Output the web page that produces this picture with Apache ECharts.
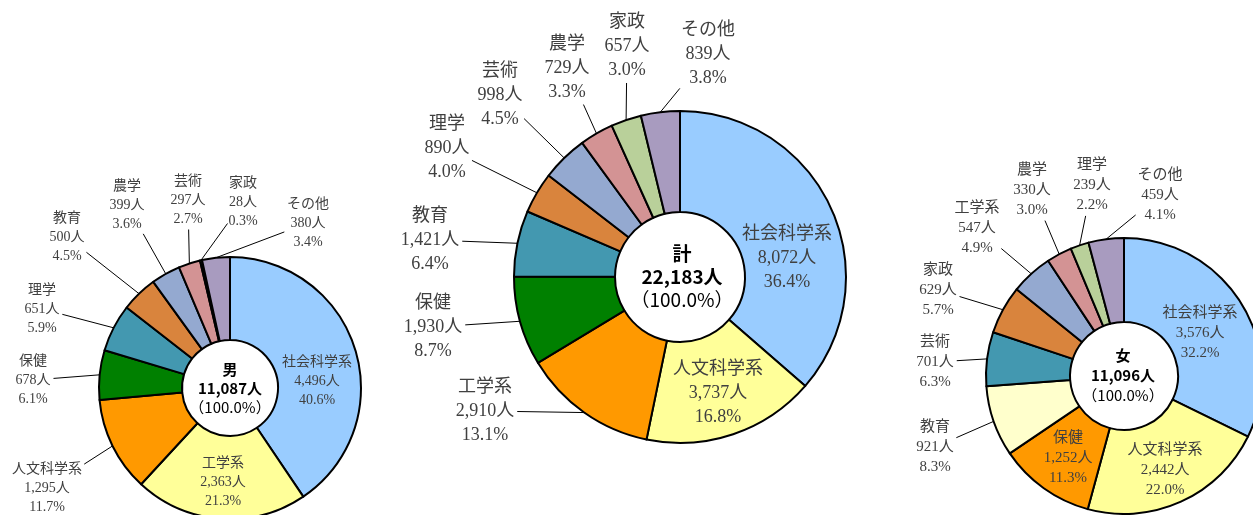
<!DOCTYPE html>
<html style="height: 100%">
<head>
    <meta charset="UTF-8">
    <title>学部系統別 学生数</title>
    <script src="https://cdn.jsdelivr.net/npm/echarts@6/dist/echarts.min.js"></script>
</head>
<body style="height: 100%; margin: 0; background: #fff">
    <div id="main" style="width: 1253px; height: 515px"></div>
    <script type="text/javascript">
        // 男
        var maleNames = ['社会科学系', '工学系', '人文科学系', '保健', '理学', '教育', '農学', '芸術', '家政', 'その他'];
        var maleValues = [4496, 2363, 1295, 678, 651, 500, 399, 297, 28, 380];
        var maleInside = ['社会科学系', '工学系'];
        // 計
        var totalNames = ['社会科学系', '人文科学系', '工学系', '保健', '教育', '理学', '芸術', '農学', '家政', 'その他'];
        var totalValues = [8072, 3737, 2910, 1930, 1421, 890, 998, 729, 657, 839];
        var totalInside = ['社会科学系', '人文科学系'];
        // 女
        var femaleNames = ['社会科学系', '人文科学系', '保健', '教育', '芸術', '家政', '工学系', '農学', '理学', 'その他'];
        var femaleValues = [3576, 2442, 1252, 921, 701, 629, 547, 330, 239, 459];
        var femaleInside = ['社会科学系', '人文科学系', '保健'];

        // 色（順位ごと）
        var palette = ['#99CCFF', '#FFFF99', '#FF9900', '#008000', '#4398B0', '#D9843D', '#94A9D0', '#D39394', '#B9D09A', '#A89BBF'];
        var femalePalette = ['#99CCFF', '#FFFF99', '#FF9900', '#FFFFCC', '#4398B0', '#D9843D', '#94A9D0', '#D39394', '#B9D09A', '#A89BBF'];

        // ラベルの位置（中心座標）
        var maleLabelPos = [[317, 381], [223, 482], [47, 488], [33, 380], [42, 309], [67, 237], [127, 205], [188, 200], [243, 202], [308, 223]];
        var totalLabelPos = [[787, 258], [718, 393], [485, 411], [433, 327], [430, 240], [447, 148], [500, 95], [567, 68], [627, 46], [708, 54]];
        var femaleLabelPos = [[1200, 333], [1165, 470], [1068, 458], [935, 447], [935, 362], [938, 290], [977, 228], [1032, 190], [1092, 185], [1160, 195]];

        var serif = "'Liberation Serif', 'DejaVu Serif', 'Noto Sans CJK JP'";
        var sans = "'Noto Sans CJK JP', 'Noto Sans', sans-serif";

        function sum(arr) {
            return arr.reduce(function (a, b) { return a + b; }, 0);
        }

        // 扇形の外周からラベルの手前まで直線を引く
        function leaderLine(start, pos, rect) {
            var dx = start[0] - pos[0], dy = start[1] - pos[1];
            var hw = rect.width / 2 - 2, hh = rect.height / 2 - 4;
            var t = Math.min(dx ? hw / Math.abs(dx) : Infinity, dy ? hh / Math.abs(dy) : Infinity);
            var len = Math.sqrt(dx * dx + dy * dy);
            var gap = 5 / len;
            return [start, [pos[0] + dx * (t + gap), pos[1] + dy * (t + gap)]];
        }

        function buildSeries(names, values, colors, inside, labelPos, center, radius, fontSize, lineHeight) {
            var total = sum(values);
            return {
                type: 'pie',
                center: center,
                radius: radius,
                startAngle: 90,
                clockwise: true,
                avoidLabelOverlap: false,
                minShowLabelAngle: 0,
                animation: false,
                emphasis: { disabled: true },
                itemStyle: { borderColor: '#000', borderWidth: 2 },
                label: {
                    show: true,
                    position: 'outside',
                    formatter: function (p) {
                        return p.name + '\n' + p.value.toLocaleString('en-US') + '人\n' + (p.value / total * 100).toFixed(1) + '%';
                    },
                    fontFamily: serif,
                    fontSize: fontSize,
                    lineHeight: lineHeight,
                    color: '#404040',
                    align: 'center'
                },
                labelLine: { show: true, length: 8, length2: 8, lineStyle: { color: '#000', width: 1 } },
                labelLayout: function (p) {
                    var pos = labelPos[p.dataIndex];
                    var out = { x: pos[0], y: pos[1], align: 'center', verticalAlign: 'middle' };
                    if (p.labelLinePoints && p.labelLinePoints.length) {
                        out.labelLinePoints = leaderLine(p.labelLinePoints[0], pos, p.labelRect);
                    }
                    return out;
                },
                data: names.map(function (n, i) {
                    var item = { name: n, value: values[i], itemStyle: { color: colors[i] } };
                    if (inside.indexOf(n) >= 0) {
                        item.label = { position: 'inside' };
                        item.labelLine = { show: false };
                    }
                    return item;
                })
            };
        }

        function centerText(x, y, title, values, size, lh) {
            return {
                type: 'text',
                x: x,
                y: y,
                style: {
                    text: '{b|' + title + '}\n{b|' + sum(values).toLocaleString('en-US') + '人}\n{n|（100.0%）}',
                    align: 'center',
                    verticalAlign: 'middle',
                    fill: '#000',
                    rich: {
                        b: { fontFamily: sans, fontSize: size, fontWeight: 'bold', lineHeight: lh, fill: '#000' },
                        n: { fontFamily: sans, fontSize: size, fontWeight: 'normal', lineHeight: lh, fill: '#000' }
                    }
                }
            };
        }

        var myChart = echarts.init(document.getElementById('main'));
        var option = {
            backgroundColor: '#fff',
            animation: false,
            series: [
                buildSeries(maleNames, maleValues, palette, maleInside, maleLabelPos, [230, 388], [48, 131], 14, 19),
                buildSeries(totalNames, totalValues, palette, totalInside, totalLabelPos, [680, 277], [65, 166], 18, 24),
                buildSeries(femaleNames, femaleValues, femalePalette, femaleInside, femaleLabelPos, [1124, 376], [54, 138], 15, 20)
            ],
            graphic: [
                centerText(230, 388, '男', maleValues, 15, 19),
                centerText(682, 277, '計', totalValues, 19, 23),
                centerText(1123, 375, '女', femaleValues, 15, 20)
            ]
        };
        myChart.setOption(option);
    </script>
</body>
</html>
